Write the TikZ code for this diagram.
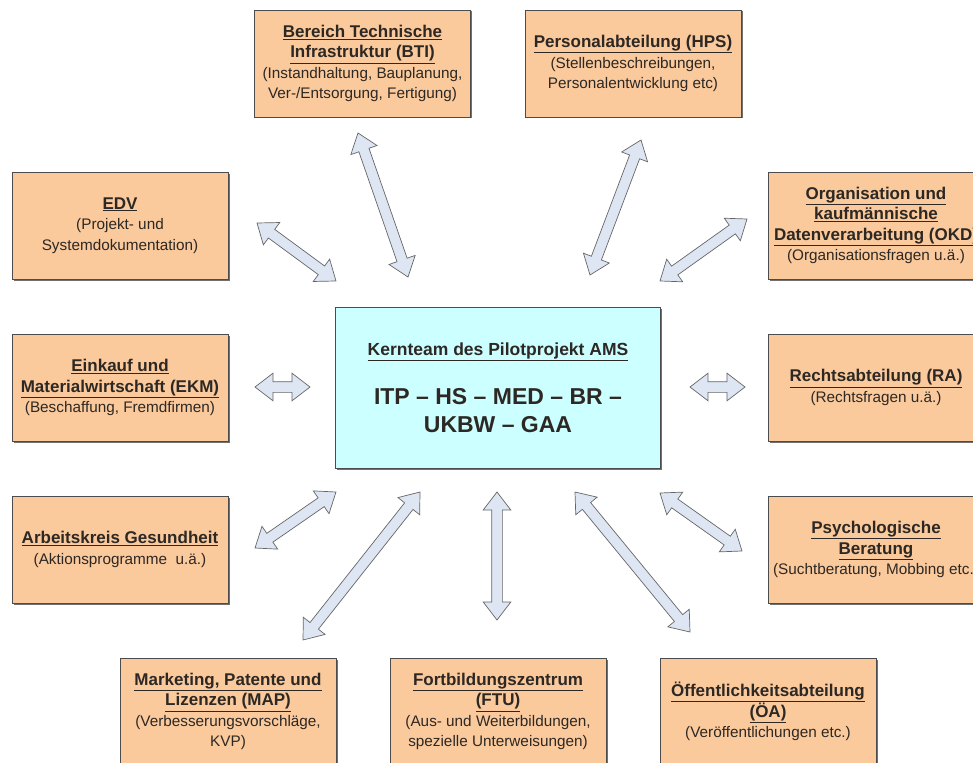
\documentclass[tikz,border=0pt]{standalone}
\usepackage{fontspec}
\setmainfont{Liberation Sans}
\usetikzlibrary{positioning, shapes.arrows, shadows, calc}
\definecolor{boxorange}{RGB}{250,201,156}
\definecolor{corecyan}{RGB}{204,255,255}
\definecolor{arrowblue}{RGB}{221,230,242}
\definecolor{textgray}{RGB}{45,40,36}
\newcommand{\ttl}[1]{{\fontsize{17}{20.5}\selectfont\textbf{\underline{#1}}}}
% Doppelpfeil zwischen zwei Punkten
\newcommand{\bothway}[2]{\path let \p1=($(#2)-(#1)$), \n1={veclen(\x1,\y1)} in (#1) -- node[Arrow style, sloped, minimum height=\n1] {} (#2);}
\tikzset{Box style/.style={draw=black!70, fill=boxorange, line width=0.8pt, minimum width=216pt, minimum height=107pt, align=center, text=textgray, font=\fontsize{15.3}{20.5}\selectfont, drop shadow={shadow xshift=1.5pt, shadow yshift=-1.5pt, fill=black!70, opacity=0.8}}}
\tikzset{Core style/.style={draw=black!70, fill=corecyan, line width=0.8pt, minimum width=325pt, minimum height=161pt, align=center, text=textgray, font=\fontsize{23}{28}\selectfont\bfseries, drop shadow={shadow xshift=1.5pt, shadow yshift=-1.5pt, fill=black!70, opacity=0.8}}}
\tikzset{Arrow style/.style={double arrow, draw=black!60, fill=arrowblue, line width=0.7pt, inner xsep=0pt, inner ysep=5pt, minimum width=27pt, double arrow head extend=8.5pt, double arrow tip angle=75}}
\tikzset{
	x=1pt, y=1pt, % Pixelmass
	node distance=378pt, % Abstand Kernteam - Seitenspalten
}

\begin{document}
\begin{tikzpicture}
        \useasboundingbox (0,0) rectangle (973,-762);
        \clip (0,0) rectangle (973,-762);
        \node[Core style] (core) at (498,-387.5) {{\fontsize{17.5}{20}\selectfont\underline{Kernteam des Pilotprojekt AMS}}\\[21pt]ITP – HS – MED – BR –\\UKBW – GAA};

        \node[Box style, left of=core] (ekm) {\ttl{Einkauf und}\\\ttl{Materialwirtschaft (EKM)}\\(Beschaffung, Fremdfirmen)};
        \node[Box style, right of=core] (ra) {\ttl{Rechtsabteilung (RA)}\\(Rechtsfragen u.ä.)};
        \node[Box style, above of=ekm, node distance=162pt] (edv) {\ttl{EDV}\\(Projekt- und\\Systemdokumentation)};
        \node[Box style, below of=ekm, node distance=162pt] (ak) {\ttl{Arbeitskreis Gesundheit}\\(Aktionsprogramme\ \ u.ä.)};
        \node[Box style, above of=ra, node distance=162pt] (okd) {\ttl{Organisation und}\\\ttl{kaufmännische}\\\ttl{Datenverarbeitung (OKD)}\\(Organisationsfragen u.ä.)};
        \node[Box style, below of=ra, node distance=162pt] (psy) {\ttl{Psychologische}\\\ttl{Beratung}\\(Suchtberatung, Mobbing etc.)};

        \node[Box style] (bti) at (362.5,-63.5) {\ttl{Bereich Technische}\\\ttl{Infrastruktur (BTI)}\\(Instandhaltung, Bauplanung,\\Ver-/Entsorgung, Fertigung)};
        \node[Box style, right of=bti, node distance=270.5pt] (hps) {\ttl{Personalabteilung (HPS)}\\(Stellenbeschreibungen,\\Personalentwicklung etc)};

        \node[Box style] (ftu) at (498,-711.5) {\ttl{Fortbildungszentrum}\\\ttl{(FTU)}\\(Aus- und Weiterbildungen,\\spezielle Unterweisungen)};
        \node[Box style, left of=ftu, node distance=270pt] (map) {\ttl{Marketing, Patente und}\\\ttl{Lizenzen (MAP)}\\(Verbesserungsvorschläge,\\KVP)};
        \node[Box style, right of=ftu, node distance=270pt] (oea) {\ttl{Öffentlichkeitsabteilung}\\\ttl{(ÖA)}\\(Veröffentlichungen etc.)};

        % Pfeilenden
        \coordinate (edv-a) at (257,-223);  \coordinate (edv-b) at (336,-281);
        \coordinate (bti-a) at (358,-133);  \coordinate (bti-b) at (408,-277);
        \coordinate (hps-a) at (641,-140);  \coordinate (hps-b) at (590,-275);
        \coordinate (okd-a) at (747,-219);  \coordinate (okd-b) at (660,-281);
        \coordinate (ekm-a) at (255,-387);  \coordinate (ekm-b) at (310,-387);
        \coordinate (ra-a) at (690,-387);   \coordinate (ra-b) at (745,-387);
        \coordinate (ak-a) at (255,-548);   \coordinate (ak-b) at (336,-492);
        \coordinate (map-a) at (303,-640);  \coordinate (map-b) at (420,-492);
        \coordinate (ftu-a) at (497,-492);  \coordinate (ftu-b) at (497,-620);
        \coordinate (oea-a) at (575,-492);  \coordinate (oea-b) at (690,-632);
        \coordinate (psy-a) at (660,-493);  \coordinate (psy-b) at (742,-551);

        \foreach \k in {edv, bti, hps, okd, ekm, ra, ak, map, ftu, oea, psy}
                \bothway{\k-a}{\k-b};
\end{tikzpicture}
\end{document}
